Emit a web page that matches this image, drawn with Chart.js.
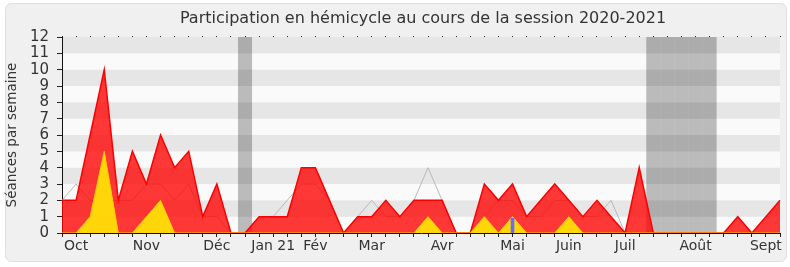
<!DOCTYPE html>
<html>
<head>
<meta charset="utf-8">
<script src="https://cdn.jsdelivr.net/npm/chart.js@4/dist/chart.umd.min.js"></script>
<style>
  html, body { margin: 0; padding: 0; background: #fff; }
  #wrap { width: 790px; height: 267px; }
</style>
</head>
<body>
<div id="wrap"><canvas id="Chart" width="790" height="267"></canvas></div>
<script>
// one point per week, from end of Sept 2020 to Sept 2021
var weekLabels = ['', 'Oct', '', '', '', '', 'Nov', '', '', '', '', 'Déc', '', '', '', 'Jan 21', '', '', 'Fév', '', '', '', 'Mar', '', '', '', '', 'Avr', '', '', '', '', 'Mai', '', '', '', 'Juin', '', '', '', 'Juil', '', '', '', '', 'Août', '', '', '', '', 'Sept', ''];
var seances = [2, 2, 6, 10, 2, 5, 3, 6, 4, 5, 1, 3, 0, 0, 1, 1, 1, 4, 4, 2, 0, 1, 1, 2, 1, 2, 2, 2, 0, 0, 3, 2, 3, 1, 2, 3, 2, 1, 2, 1, 0, 4, 0, 0, 0, 0, 0, 0, 1, 0, 1, 2];
var interventions = [0, 0, 1, 5, 0, 0, 1, 2, 0, 0, 0, 0, 0, 0, 0, 0, 0, 0, 0, 0, 0, 0, 0, 0, 0, 0, 1, 0, 0, 0, 1, 0, 1, 0, 0, 0, 1, 0, 0, 0, 0, 0, 0, 0, 0, 0, 0, 0, 0, 0, 0, 0];
var mediane = [2, 3, 2, 2, 2, 2, 3, 3, 2, 3, 1, 1, 0, 0, 1, 1, 2, 3, 3, 2, 0, 1, 2, 1, 1, 2, 4, 2, 0, 0, 1, 2, 2, 1, 1, 2, 2, 1, 1, 2, 0, 0, 0, 0, 0, 0, 0, 0, 0, 0, 0, 0];
var questions = [null, null, null, null, null, null, null, null, null, null, null, null, null, null, null, null, null, null, null, null, null, null, null, null, null, null, null, null, null, null, null, null, 0.9, null, null, null, null, null, null, null, null, null, null, null, null, null, null, null, null, null, null, null];
var vacances = [null, null, null, null, null, null, null, null, null, null, null, null, null, 12, null, null, null, null, null, null, null, null, null, null, null, null, null, null, null, null, null, null, null, null, null, null, null, null, null, null, null, null, 12, 12, 12, 12, 12, null, null, null, null, null];
var yMax = 12;
var titre = 'Participation en hémicycle au cours de la session 2020-2021';

var fond = {
    id: 'fond',
    beforeDraw: function (chart) {
        var ctx = chart.ctx;
        ctx.save();
        ctx.fillStyle = '#ffffff';
        ctx.fillRect(0, 0, chart.width, chart.height);
        ctx.beginPath();
        ctx.roundRect(5.5, 3.5, 781, 258, 6);
        ctx.fillStyle = '#f0f0f0';
        ctx.fill();
        ctx.strokeStyle = '#dedede';
        ctx.lineWidth = 1;
        ctx.stroke();
        // bandes horizontales
        var a = chart.chartArea, y = chart.scales.y;
        for (var v = 0; v < yMax; v++) {
            var top = y.getPixelForValue(v + 1), bot = y.getPixelForValue(v);
            ctx.fillStyle = (v % 2 == 1) ? '#e6e6e6' : '#fafafa';
            ctx.fillRect(a.left, top, a.right - a.left, bot - top);
        }
        // titre centré sur la zone du graphique
        ctx.fillStyle = '#333';
        ctx.font = '16px "DejaVu Sans"';
        ctx.textAlign = 'center';
        ctx.textBaseline = 'middle';
        ctx.fillText(titre, (a.left + a.right) / 2 + 2, 19);
        ctx.restore();
    }
};

new Chart('Chart', {
    data: {
        labels: weekLabels,
        datasets: [
            { type: 'bar', data: vacances, backgroundColor: 'rgba(0,0,0,0.25)', barPercentage: 1, categoryPercentage: 1, grouped: false, inflateAmount: 0, order: 5 },
            { type: 'line', data: mediane, borderColor: '#b8b8b8', borderWidth: 1, pointRadius: 0, fill: false, order: 4 },
            { type: 'line', data: seances, borderColor: '#ff0000', borderWidth: 1.5, backgroundColor: 'rgba(255,0,0,0.78)', pointRadius: 0, fill: 'origin', order: 3 },
            { type: 'line', data: interventions, borderColor: '#ffcc00', borderWidth: 1, backgroundColor: '#ffd60a', pointRadius: 0, fill: 'origin', order: 2 },
            { type: 'bar', data: questions, backgroundColor: '#6a6aff', barThickness: 3, grouped: false, order: 1 }
        ]
    },
    options: {
        responsive: false,
        animation: false,
        layout: { padding: { left: 0, right: 10, top: 36, bottom: 0 } },
        plugins: {
            legend: { display: false },
            tooltip: { enabled: false },
            title: { display: false }
        },
        scales: {
            x: {
                type: 'category',
                offset: false,
                grid: { offset: false, drawOnChartArea: false, tickLength: 4, color: '#222' },
                border: { color: '#111', width: 1 },
                ticks: { autoSkip: false, maxRotation: 0, padding: 1, color: '#333', font: { family: 'DejaVu Sans', size: 14 } },
                afterFit: function (s) { s.height = 34; }
            },
            x2: {
                type: 'category',
                position: 'top',
                offset: false,
                grid: { offset: false, drawOnChartArea: false, tickLength: 1, color: '#222' },
                border: { display: false },
                ticks: { display: false },
                afterFit: function (s) { s.height = 1; }
            },
            y: {
                min: 0,
                max: yMax,
                grid: { drawOnChartArea: false, tickLength: 5, color: '#222' },
                border: { color: '#111', width: 1 },
                ticks: { stepSize: 1, autoSkip: false, padding: 8, color: '#333', font: { family: 'DejaVu Sans', size: 15 } },
                title: { display: true, text: 'Séances par semaine', color: '#333', font: { family: 'DejaVu Sans', size: 13.5 }, padding: { top: 4, bottom: 0 } },
                afterFit: function (s) { s.width = 62; }
            }
        }
    },
    plugins: [fond]
});
</script>
</body>
</html>
